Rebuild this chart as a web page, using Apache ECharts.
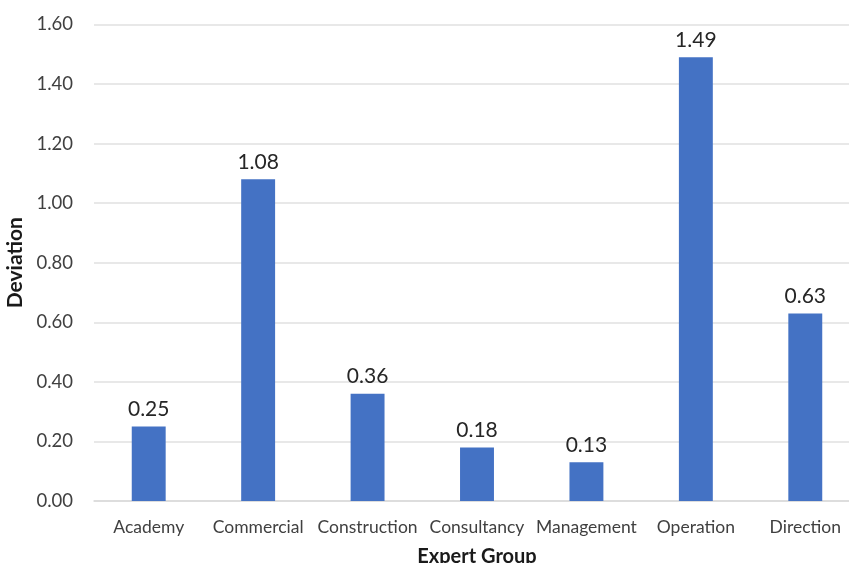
<!DOCTYPE html>
<html>
<head>
<meta charset="utf-8">
<script src="https://cdn.jsdelivr.net/npm/echarts@6/dist/echarts.min.js"></script>
<style>
  html, body { margin: 0; padding: 0; background: #ffffff; }
  #chart { width: 849px; height: 563px; }
</style>
</head>
<body>
<div id="chart"></div>
<script>
// Deviation per expert group
const categories = ['Academy', 'Commercial', 'Construction', 'Consultancy', 'Management', 'Operation', 'Direction'];
const deviation = [0.25, 1.08, 0.36, 0.18, 0.13, 1.49, 0.63];
const yTicks = { min: 0, max: 1.6, interval: 0.2 };

const FONT = 'Lato';
const chart = echarts.init(document.getElementById('chart'), null, { renderer: 'canvas' });

chart.setOption({
  backgroundColor: '#ffffff',
  animation: false,
  grid: {
    left: 94, right: -11, top: 24.5, bottom: 62,
    containLabel: false,
    outerBoundsMode: 'none'
  },
  xAxis: {
    type: 'category',
    data: categories,
    name: 'Expert Group',
    nameLocation: 'middle',
    nameGap: 46,
    nameTextStyle: { fontFamily: FONT, fontSize: 20, fontWeight: 'bold', color: '#1a1a1a' },
    axisLine: { show: true, lineStyle: { color: '#d9d9d9', width: 1.5 } },
    axisTick: { show: false },
    axisLabel: { interval: 0, fontFamily: FONT, fontSize: 17.5, color: '#404040', margin: 17 }
  },
  yAxis: {
    type: 'value',
    min: yTicks.min,
    max: yTicks.max,
    interval: yTicks.interval,
    name: 'Deviation',
    nameLocation: 'middle',
    nameGap: 60,
    nameTextStyle: { fontFamily: FONT, fontSize: 21, fontWeight: 'bold', color: '#1a1a1a' },
    axisLine: { show: false },
    axisTick: { show: false },
    axisLabel: {
      fontFamily: FONT, fontSize: 18.5, color: '#404040', margin: 21,
      formatter: v => v.toFixed(2)
    },
    splitLine: { lineStyle: { color: '#e0e0e0', width: 1.5 } }
  },
  series: [{
    type: 'bar',
    data: deviation,
    barWidth: '31%',
    itemStyle: { color: '#4472c4' },
    label: {
      show: true,
      position: 'top',
      distance: 7,
      fontFamily: FONT,
      fontSize: 21,
      color: '#262626',
      formatter: p => p.value.toFixed(2)
    }
  }]
});
</script>
</body>
</html>
